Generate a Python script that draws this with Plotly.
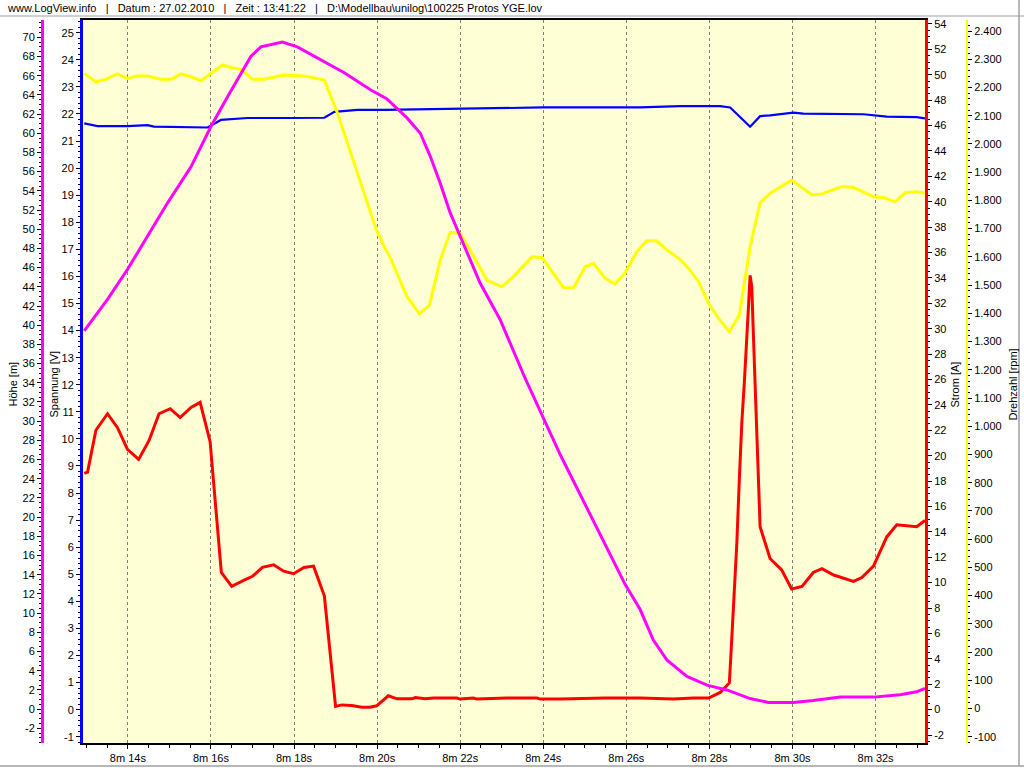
import plotly.graph_objects as go

# ---------------- data (time in seconds since log start; 8m 14s = 494 s) ----------------
t_hoehe = [492.95, 493.51, 493.99, 494.23, 494.95, 495.52, 496.00, 496.40, 496.96, 497.20,
           497.72, 498.08, 498.65, 499.21, 499.85, 500.23, 500.72, 501.04, 501.28, 501.52,
           501.76, 502.00, 502.48, 502.96, 503.56, 504.41, 505.37, 505.97, 506.33, 506.65,
           506.98, 507.46, 507.94, 508.42, 508.98, 509.42, 510.02, 510.50, 511.15, 511.95,
           512.59, 512.99, 513.19]
hoehe = [39.4, 42.7, 45.8, 47.5, 52.7, 56.5, 60.7, 63.8, 68.0, 69.0,
         69.5, 69.0, 67.6, 66.3, 64.5, 63.6, 61.6, 60.0, 57.6, 54.8,
         51.7, 49.2, 44.4, 40.6, 34.5, 26.5, 18.2, 13.0, 10.4, 7.2,
         5.1, 3.4, 2.5, 2.0, 1.1, 0.7, 0.7, 0.9, 1.25, 1.25,
         1.5, 1.8, 2.15]

t_spannung = [492.95, 493.27, 493.99, 494.47, 494.63, 495.52, 495.92, 496.24, 496.48, 496.88,
              497.76, 498.73, 498.97, 499.53, 500.17, 501.04, 502.00, 504.00, 506.33, 507.29,
              508.26, 508.50, 508.98, 509.22, 509.46, 510.02, 510.26, 511.71, 512.27, 512.99,
              513.19]
spannung = [21.65, 21.55, 21.55, 21.59, 21.53, 21.50, 21.50, 21.78, 21.81, 21.85,
            21.85, 21.86, 22.08, 22.15, 22.15, 22.17, 22.19, 22.24, 22.24, 22.29,
            22.29, 22.24, 21.53, 21.92, 21.95, 22.05, 22.01, 21.99, 21.90, 21.88,
            21.84]

t_drehzahl = [492.95, 493.23, 493.47, 493.75, 493.99, 494.23, 494.47, 494.79, 495.04, 495.28,
              495.52, 495.76, 496.28, 496.48, 496.72, 497.00, 497.28, 497.76, 498.24, 498.73,
              499.05, 499.37, 499.69, 499.97, 500.17, 500.31, 500.72, 501.02, 501.26, 501.52,
              501.76, 502.00, 502.24, 502.64, 503.00, 503.28, 503.73, 503.97, 504.49, 504.73,
              505.01, 505.21, 505.49, 505.73, 505.97, 506.25, 506.49, 506.73, 506.98, 507.29,
              507.50, 507.74, 507.98, 508.22, 508.48, 508.72, 508.98, 509.22, 509.46, 509.98,
              510.47, 510.71, 511.19, 511.47, 511.95, 512.19, 512.47, 512.71, 512.99, 513.19]
drehzahl = [2250, 2220, 2229, 2248, 2232, 2241, 2241, 2229, 2229, 2248,
            2238, 2224, 2280, 2271, 2264, 2229, 2229, 2244, 2241, 2226,
            2108, 1967, 1825, 1701, 1636, 1600, 1459, 1398, 1429, 1589,
            1687, 1683, 1624, 1518, 1494, 1530, 1600, 1598, 1491, 1491,
            1565, 1577, 1524, 1504, 1542, 1618, 1657, 1657, 1624, 1591,
            1559, 1512, 1435, 1382, 1335, 1394, 1636, 1792, 1825, 1872,
            1819, 1823, 1849, 1846, 1813, 1810, 1795, 1827, 1831, 1825]

t_strom = [492.95, 493.03, 493.23, 493.51, 493.75, 493.99, 494.26, 494.51, 494.75, 495.02,
           495.26, 495.52, 495.74, 495.98, 496.25, 496.50, 496.80, 497.00, 497.24, 497.51,
           497.75, 497.99, 498.24, 498.47, 498.73, 499.00, 499.15, 499.39, 499.63, 499.83,
           499.99, 500.27, 500.48, 500.84, 500.92, 501.16, 501.36, 501.92, 502.00, 502.32,
           502.40, 503.12, 503.85, 503.93, 504.41, 505.50, 506.33, 507.13, 507.62, 507.98,
           508.26, 508.48, 508.52, 508.60, 508.66, 508.72, 508.78, 508.84, 508.90, 508.94,
           508.98, 509.02, 509.06, 509.10, 509.16, 509.22, 509.46, 509.74, 509.98, 510.23,
           510.50, 510.71, 510.99, 511.47, 511.67, 511.95, 512.27, 512.51, 512.99, 513.19]
strom = [18.6, 18.7, 22.0, 23.3, 22.2, 20.5, 19.7, 21.2, 23.3, 23.7,
         23.0, 23.8, 24.2, 21.1, 10.8, 9.7, 10.2, 10.5, 11.2, 11.4,
         10.9, 10.7, 11.2, 11.3, 8.96, 0.25, 0.37, 0.32, 0.19, 0.19,
         0.30, 1.09, 0.85, 0.85, 0.95, 0.85, 0.91, 0.91, 0.83, 0.91,
         0.83, 0.91, 0.91, 0.83, 0.83, 0.91, 0.91, 0.83, 0.91, 0.91,
         1.35, 2.1, 4.45, 8.9, 13.1, 18.1, 22.6, 25.7, 28.9, 31.7,
         34.2, 33.3, 29.4, 25.4, 19.4, 14.4, 11.9, 11.0, 9.5, 9.7,
         10.8, 11.1, 10.6, 10.1, 10.4, 11.3, 13.6, 14.55, 14.4, 14.9]

# ---------------- tick labels ----------------
x_tickvals = [494, 496, 498, 500, 502, 504, 506, 508, 510, 512]
x_ticktext = ["8m 14s", "8m 16s", "8m 18s", "8m 20s", "8m 22s",
              "8m 24s", "8m 26s", "8m 28s", "8m 30s", "8m 32s"]
hoehe_ticks = list(range(-2, 71, 2))
spannung_ticks = list(range(-1, 26, 1))
strom_ticks = list(range(-2, 55, 2))
drehzahl_ticks = list(range(-100, 2401, 100))

SEP = "\u00a0\u00a0\u00a0|\u00a0\u00a0\u00a0"
header_parts = ["www.LogView.info", "Datum : 27.02.2010", "Zeit : 13:41:22",
                "D:\\Modellbau\\unilog\\100225 Protos YGE.lov"]
header = SEP.join(header_parts)


def de_int(v):
    return f"{v:,}".replace(",", ".")


# ---------------- geometry (pixels of a 1024x768 page) ----------------
W, H = 1024, 768
PL, PR, PT, PB = 83, 925, 20, 743
FONT = "Liberation Sans, Arial, sans-serif"
FS = 11

fig = go.Figure()
fig.add_trace(go.Scatter(x=t_spannung, y=spannung, yaxis="y", mode="lines",
                         line=dict(color="#0000FF", width=2.2), name="Spannung"))
fig.add_trace(go.Scatter(x=t_drehzahl, y=drehzahl, yaxis="y2", mode="lines",
                         line=dict(color="#FFFF00", width=3), name="Drehzahl"))
fig.add_trace(go.Scatter(x=t_strom, y=strom, yaxis="y3", mode="lines",
                         line=dict(color="#FF0000", width=3), name="Strom"))
fig.add_trace(go.Scatter(x=t_hoehe, y=hoehe, yaxis="y4", mode="lines",
                         line=dict(color="#FF00FF", width=3), name="Höhe"))

ydom = [(H - PB) / H, (H - PT) / H]
common_y = dict(ticks="outside", ticklen=4, tickcolor="black", showgrid=False,
                zeroline=False, showline=True, tickmode="array",
                tickfont=dict(size=FS, color="black", family=FONT), automargin=False)

fig.update_layout(
    width=W, height=H,
    margin=dict(l=0, r=0, t=0, b=0),
    paper_bgcolor="white",
    plot_bgcolor="#FFFFD5",
    showlegend=False,
    font=dict(family=FONT, size=FS, color="black"),
    xaxis=dict(domain=[PL / W, PR / W], range=[492.92, 513.19],
               tickmode="array", tickvals=x_tickvals, ticktext=x_ticktext,
               ticks="outside", ticklen=4, tickcolor="black",
               showline=True, linecolor="black", linewidth=1.5, mirror=True,
               showgrid=True, gridcolor="#808080", gridwidth=1, griddash="3px,3px",
               zeroline=False, automargin=False,
               tickfont=dict(size=FS, color="black", family=FONT),
               minor=dict(tickmode="linear", tick0=492, dtick=0.5, ticks="outside",
                          ticklen=3, tickcolor="black", showgrid=False)),
    yaxis=dict(domain=ydom, range=[-1.23, 25.47], side="left", anchor="x",
               tickvals=spannung_ticks, ticktext=[str(v) for v in spannung_ticks],
               linecolor="#0000FF", linewidth=3,
               minor=dict(tickmode="linear", tick0=0, dtick=0.2, ticks="outside",
                          ticklen=2, tickcolor="black"),
               **common_y),
    yaxis2=dict(overlaying="y", range=[-122, 2439], side="right", anchor="free",
                position=967 / W,
                tickvals=drehzahl_ticks, ticktext=[de_int(v) for v in drehzahl_ticks],
                linecolor="#FFFF00", linewidth=2,
                minor=dict(tickmode="linear", tick0=0, dtick=20, ticks="outside",
                           ticklen=2, tickcolor="black"),
                **common_y),
    yaxis3=dict(overlaying="y", range=[-2.63, 54.31], side="right", anchor="x",
                tickvals=strom_ticks, ticktext=[str(v) for v in strom_ticks],
                linecolor="#FF0000", linewidth=3,
                minor=dict(tickmode="linear", tick0=0, dtick=0.5, ticks="outside",
                           ticklen=2, tickcolor="black"),
                **common_y),
    yaxis4=dict(overlaying="y", range=[-3.53, 71.8], side="left", anchor="free",
                position=42 / W,
                tickvals=hoehe_ticks, ticktext=[str(v) for v in hoehe_ticks],
                linecolor="#FF00FF", linewidth=3,
                minor=dict(tickmode="linear", tick0=0, dtick=0.5, ticks="outside",
                           ticklen=2, tickcolor="black"),
                **common_y),
)

mid = 1 - ((PT + PB) / 2 + 3) / H
titles = [("Höhe [m]", 12), ("Spannung [V]", 53), ("Strom [A]", 954), ("Drehzahl [rpm]", 1012)]
annotations = [dict(text=txt, x=px / W, y=mid, xref="paper", yref="paper",
                    xanchor="center", yanchor="middle", textangle=-90, showarrow=False,
                    font=dict(size=FS, color="black", family=FONT))
               for txt, px in titles]
annotations.append(dict(text=header, x=5 / W, y=1 - 8 / H, xref="paper", yref="paper",
                        xanchor="left", yanchor="middle", showarrow=False,
                        font=dict(size=FS, color="black", family=FONT)))
fig.update_layout(annotations=annotations)

fig.update_layout(shapes=[
    dict(type="line", xref="paper", yref="paper", x0=0, x1=1,
         y0=1 - 16 / H, y1=1 - 16 / H, line=dict(color="#A0A0A0", width=1)),
    dict(type="line", xref="paper", yref="paper", x0=0, x1=1,
         y0=1 - 766 / H, y1=1 - 766 / H, line=dict(color="#A0A0A0", width=1.5)),
    dict(type="line", xref="paper", yref="paper", x0=1019 / W, x1=1019 / W,
         y0=1 - 766 / H, y1=1, line=dict(color="#A0A0A0", width=1.5)),
])

fig.write_html("out.html",
               config={"displayModeBar": False},
               post_script="document.body.style.margin='0px';document.body.style.overflow='hidden';")
